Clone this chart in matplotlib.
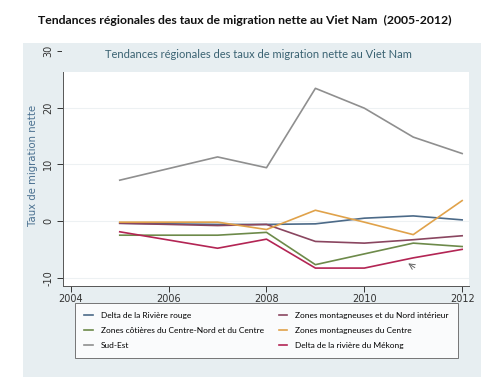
import matplotlib
matplotlib.use('Agg')
import matplotlib.pyplot as plt
from matplotlib.patches import Rectangle
from matplotlib.lines import Line2D

# Data
years = [2005, 2007, 2008, 2009, 2010, 2011, 2012]
labels = ['Delta de la Rivière rouge',
          'Zones côtières du Centre-Nord et du Centre',
          'Sud-Est',
          'Zones montagneuses et du Nord intérieur',
          'Zones montagneuses du Centre',
          'Delta de la rivière du Mékong']
riviere_rouge = [-0.4, -0.6, -0.6, -0.5, 0.5, 0.9, 0.2]
cotieres = [-2.5, -2.5, -2.0, -7.7, -5.8, -3.9, -4.5]
sud_est = [7.2, 11.3, 9.4, 23.4, 19.9, 14.8, 11.9]
nord_interieur = [-0.4, -0.8, -0.6, -3.6, -3.9, -3.3, -2.6]
centre = [-0.2, -0.2, -1.5, 1.9, -0.2, -2.4, 3.6]
mekong = [-1.9, -4.8, -3.2, -8.3, -8.3, -6.5, -5.0]
series = [riviere_rouge, cotieres, sud_est, nord_interieur, centre, mekong]
colors = ['#4c6a88', '#6d8a4a', '#8f8f8f', '#8a4660', '#e0a24a', '#b32554']
xticks = [2004, 2006, 2008, 2010, 2012]
yticks = [-10, 0, 10, 20, 30]

W, H = 503, 385
fig = plt.figure(figsize=(W / 100, H / 100), dpi=100, facecolor='white')

def fx(px):
    return px / W

def fy(py):
    return 1 - py / H

panel = '#e7eef1'
fig.add_artist(Rectangle((fx(23), fy(377)), fx(481) - fx(23), fy(43) - fy(377),
                         transform=fig.transFigure, facecolor=panel,
                         edgecolor='none', zorder=-10))

ax = fig.add_axes([fx(63), fy(286), fx(469) - fx(63), fy(45) - fy(286)])
ax.set_facecolor('white')
for i in range(len(series)):
    ax.plot(years, series[i], color=colors[i], lw=1.2, label=labels[i])

ax.set_xlim(2003.84, 2012.14)
ax.set_ylim(-11.46, 31.04)
ax.set_xticks(xticks)
ax.set_yticks(yticks)
ax.set_yticklabels([str(v) for v in yticks], rotation=90, va='center')
ax.tick_params(labelsize=7, colors='#333333', length=4, width=0.7)
ax.tick_params(axis='x', pad=2)
ax.tick_params(axis='y', pad=3)
ax.grid(axis='y', color='#edf1f3', lw=0.8)
ax.set_axisbelow(True)
for s in ['top', 'right']:
    ax.spines[s].set_visible(False)
for s in ['left', 'bottom']:
    ax.spines[s].set_color('#555555')
    ax.spines[s].set_linewidth(0.7)

# small arrow near the Mekong line
ax.annotate('', xy=(2010.85, -7.2), xytext=(2011.08, -8.5),
            arrowprops=dict(arrowstyle='->', color='#666666', lw=0.7))

# title band covering the top of the plot region
fig.add_artist(Rectangle((fx(62), fy(72)), fx(470) - fx(62), fy(43) - fy(72),
                         transform=fig.transFigure, facecolor=panel,
                         edgecolor='none', zorder=5))

fig.text(fx(33), fy(165), 'Taux de migration nette', rotation=90,
         ha='center', va='center', fontsize=7.3, color='#4a7090')
fig.text(fx(258), fy(54), 'Tendances régionales des taux de migration nette au Viet Nam',
         ha='center', va='center', fontsize=8, color='#3a6272',
         family='Lato', zorder=6)
fig.text(fx(245), fy(20), 'Tendances régionales des taux de migration nette au Viet Nam  (2005-2012)',
         ha='center', va='center', fontsize=8.8, fontweight='bold',
         color='#111111', family='Lato')

handles = [Line2D([], [], color=c, lw=1.2) for c in colors]
leg = fig.legend(handles, labels, ncol=2, loc='upper left',
                 bbox_to_anchor=(fx(75), fy(361), fx(458) - fx(75), fy(303) - fy(361)),
                 mode='expand', prop={'family': 'Lato', 'size': 6.0},
                 handlelength=1.0, handletextpad=1.0,
                 labelspacing=0.95, borderpad=1.1, fancybox=False, frameon=True,
                 borderaxespad=0)
leg.get_frame().set_edgecolor('#555555')
leg.get_frame().set_linewidth(0.7)

fig.savefig('out.png', dpi=100, facecolor='white')
